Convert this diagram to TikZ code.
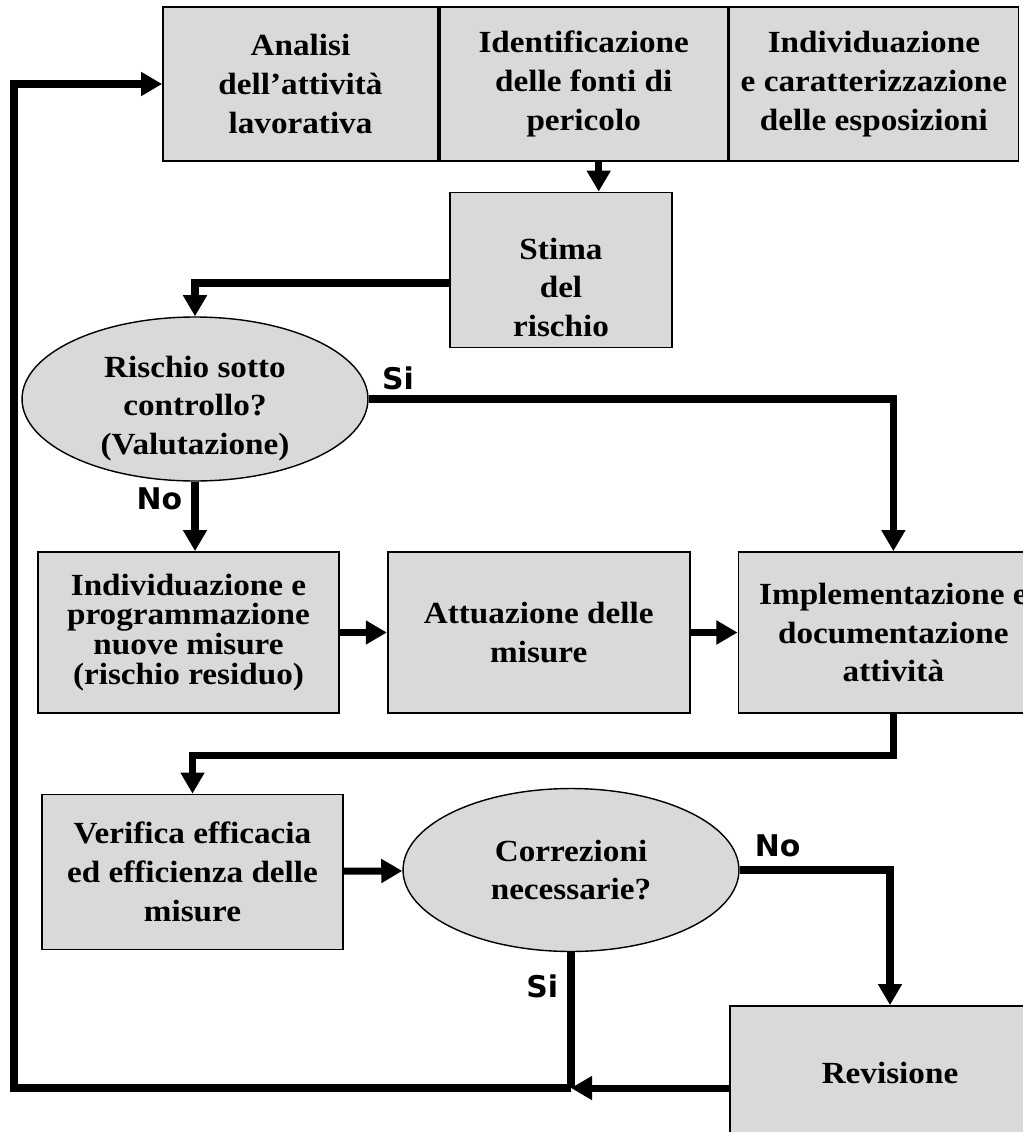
\documentclass[tikz,border=0pt]{standalone}
\usepackage{fontspec}
\setmainfont{Liberation Serif}[FakeStretch=1.08]
\setsansfont{DejaVu Sans}
\usetikzlibrary{shapes.geometric, arrows.meta, positioning, calc}

\begin{document}
\begin{tikzpicture}[x=0.02cm, y=-0.02cm, node distance=0.94cm,
  box/.style={rectangle, draw, line width=1pt, fill=black!15, align=center,
    inner sep=0pt, minimum height=3.22cm, font=\bfseries\fontsize{17.5}{22}\selectfont},
  decision/.style={ellipse, draw, line width=0.8pt, fill=black!15, align=center,
    inner sep=0pt, font=\bfseries\fontsize{17.5}{22}\selectfont},
  flow/.style={line width=4pt, -{Triangle[width=13pt,length=12pt]}},
  loopline/.style={flow, line width=5pt},
  lbl/.style={font=\sffamily\bfseries\fontsize{17}{20}\selectfont}]
  \useasboundingbox (0,0) rectangle (1022,1132);

  % Nodes
  \node [box, minimum width=5.5cm, minimum height=3.08cm] (analisi) at (300.5,84) {Analisi\\dell'attività\\lavorativa};
  \node [box, minimum width=5.76cm, minimum height=3.08cm, right=0pt of analisi] (fonti) {Identificazione\\delle fonti di\\pericolo};
  \node [box, minimum width=5.78cm, minimum height=3.08cm, right=0pt of fonti] (espos) {Individuazione\\e caratterizzazione\\delle esposizioni};
  \node [box, minimum width=4.44cm, minimum height=3.1cm] (stima) at (561,270)
    {\raisebox{-0.4cm}[\height][\depth]{\begin{tabular}{@{}c@{}}Stima\\del\\rischio\end{tabular}}};
  \node [decision, minimum width=6.92cm, minimum height=3.16cm] (risk) at (195,399)
    {\raisebox{-0.18cm}[\height][\depth]{\begin{tabular}{@{}c@{}}Rischio sotto\\controllo?\\(Valutazione)\end{tabular}}};
  \node [box, minimum width=6.02cm, font=\bfseries\fontsize{17.5}{17}\selectfont] (indiv) at (188.5,632.5)
    {Individuazione e\\programmazione\\nuove misure\\(rischio residuo)};
  \node [box, minimum width=6.04cm, right=of indiv] (attua) {Attuazione delle\\misure};
  \node [box, minimum width=6.2cm, right=of attua] (impl) {Implementazione e\\documentazione\\attività};
  \node [box, minimum width=6.02cm, minimum height=3.1cm] (verif) at (192.5,872) {Verifica efficacia\\ed efficienza delle\\misure};
  \node [decision, minimum width=6.72cm, minimum height=3.26cm] (corr) at (571,870) {Correzioni\\necessarie?};
  \node [box, minimum width=6.4cm, minimum height=2.68cm] (revis) at (890,1073) {Revisione};

  \coordinate (fs) at ($(fonti.south)+(15,0)$);
  \coordinate (join) at (571,1088);
  \coordinate (lft) at (14,1088);

  % Edges
  \draw [flow] (fs) -- (fs |- stima.north);
  \draw [flow] ($(stima.west)+(0,13)$) -| (risk.north);
  \draw [flow] (risk.east) -| node [lbl, pos=0.028, above=0pt] {Si} (impl.north);
  \draw [flow] (risk.south) -- node [lbl, pos=0.25, left=2pt] {No} (risk.south |- indiv.north);
  \draw [flow] (indiv) -- (attua);
  \draw [flow] (attua) -- (impl);
  \draw [flow] (impl.south) -- ++(0,42) -| (verif.north);
  \draw [flow] (verif) -- (corr);
  \draw [flow] (corr.east) -| node [lbl, pos=0.126, above=2pt] {No} (revis.north);
  \draw [line width=4pt] (corr.south) -- node [lbl, pos=0.25, left=2pt] {Si} (join);
  \draw [flow] (revis.west |- join) -- (join);

  % loop back
  \draw [loopline] (join) -- (lft) |- (analisi.west);
\end{tikzpicture}
\end{document}
